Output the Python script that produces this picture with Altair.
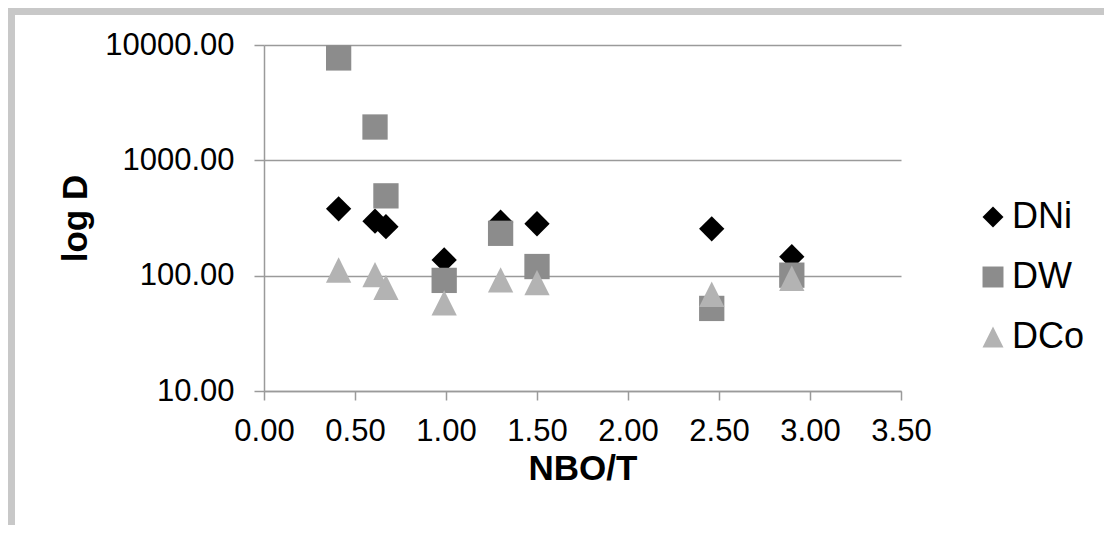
import altair as alt
import pandas as pd

# Data
nbo_t = [0.41, 0.61, 0.67, 0.99, 1.30, 1.50, 2.46, 2.90]
d_ni = [380, 297, 266, 137, 291, 282, 255, 146]
d_w = [7725, 1945, 492, 91, 233, 120, 52, 101]
d_co = [112, 102, 79, 58, 92, 87, 69, 95]

series_names = ["DNi", "DW", "DCo"]
series_colors = ["#000000", "#8c8c8c", "#b3b3b3"]
series_shapes = ["diamond", "square", "M0,-1L1,1L-1,1Z"]
x_ticks = [0, 0.5, 1.0, 1.5, 2.0, 2.5, 3.0, 3.5]
y_ticks = [10, 100, 1000, 10000]

rows = []
for name, vals in zip(series_names, [d_ni, d_w, d_co]):
    for xv, yv in zip(nbo_t, vals):
        rows.append({"NBO/T": xv, "D": yv, "series": name})
df = pd.DataFrame(rows)
df["order"] = range(len(df))

FONT = "Liberation Sans"
W, H = 637, 346

frame = alt.Chart(pd.DataFrame({"a": [0]})).mark_rect(
    fill=None, stroke="#c8c8c8", strokeWidth=7
).encode(
    x=alt.value(-252.5), x2=alt.value(W + 260),
    y=alt.value(-33.5), y2=alt.value(H + 160)
)

points = alt.Chart(df).mark_point(filled=True, opacity=1, size=640).encode(
    x=alt.X("NBO/T:Q",
            scale=alt.Scale(domain=[0, 3.5], nice=False, zero=False),
            axis=alt.Axis(values=x_ticks, format=".2f", grid=False,
                          title="NBO/T", titleFontWeight="bold", titleFontSize=35,
                          titleY=77, titleBaseline="middle",
                          labelFontSize=31, labelPadding=16, tickSize=9,
                          labelFlush=False)),
    y=alt.Y("D:Q",
            scale=alt.Scale(type="log", domain=[10, 10000], nice=False),
            axis=alt.Axis(values=y_ticks, format=".2f", grid=True,
                          title="log D", titleFontWeight="bold", titleFontSize=35,
                          titleAngle=-90, titleX=-189, titleY=H / 2,
                          titleAlign="center", titleBaseline="middle",
                          labelFontSize=31, labelPadding=20, tickSize=10,
                          labelFlush=False)),
    color=alt.Color("series:N",
                    scale=alt.Scale(domain=series_names, range=series_colors),
                    legend=alt.Legend(title=None, orient="none", legendX=711, legendY=154,
                                      labelFontSize=36, symbolSize=440, rowPadding=24,
                                      labelOffset=1, symbolStrokeWidth=0)),
    shape=alt.Shape("series:N",
                    scale=alt.Scale(domain=series_names, range=series_shapes)),
    order=alt.Order("order:Q"),
)

chart = alt.layer(frame, points).properties(
    width=W, height=H,
    autosize=alt.AutoSizeParams(type="none"),
    padding={"left": 256, "top": 37, "right": 203, "bottom": 134},
).configure_view(stroke=None).configure_axis(
    labelFont=FONT, titleFont=FONT, labelColor="#000000", titleColor="#000000",
    domainColor="#9a9a9a", tickColor="#9a9a9a", gridColor="#9a9a9a",
    domainWidth=1.5, tickWidth=1.5, gridWidth=1.5,
).configure_legend(labelFont=FONT, labelColor="#000000")

chart.save("out.html", embed_options={"renderer": "svg", "actions": False})
